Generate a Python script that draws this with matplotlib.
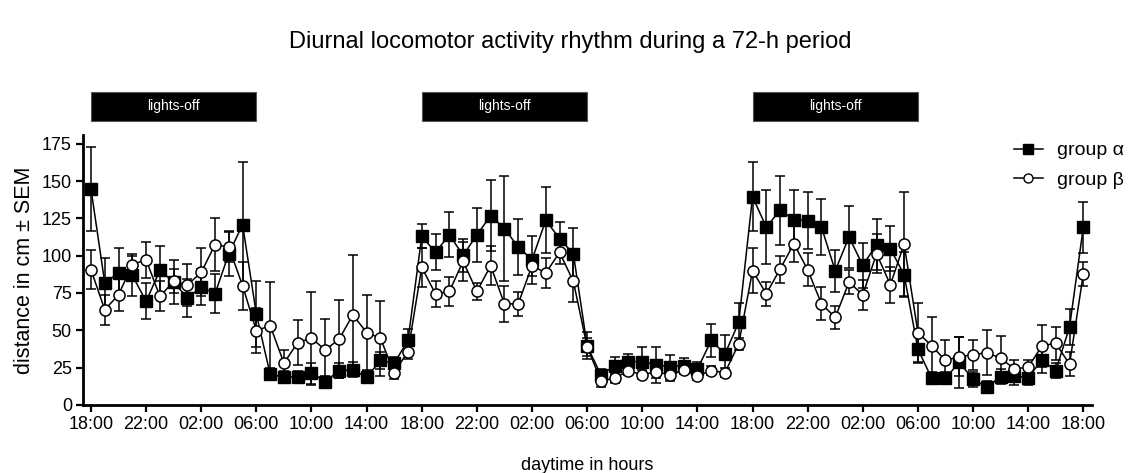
import numpy as np
import matplotlib
matplotlib.use("Agg")
import matplotlib.pyplot as plt
from matplotlib.patches import Rectangle
from matplotlib.transforms import blended_transform_factory
from matplotlib.lines import Line2D

plt.rcParams['font.family'] = ['Liberation Sans', 'DejaVu Sans']

# hours after 18:00, one sample per hour over 72 h
hours = np.arange(73)

alpha_mean = [144.7, 81.7, 88.4, 86.8, 69.4, 90.2, 82.3, 71.6, 79.0, 74.5, 101.3, 120.8, 60.8,
              20.6, 18.6, 19.0, 21.3, 15.7, 23.0, 23.5, 18.6, 29.8, 28.0, 43.2,
              113.0, 102.2, 114.0, 100.2, 113.9, 126.8, 118.1, 105.8, 97.3, 123.7, 111.4, 101.3,
              39.6, 20.1, 26.2, 29.0, 29.1, 26.8, 25.7, 26.4, 23.9, 43.2, 34.2, 55.3,
              139.4, 119.2, 130.4, 124.2, 123.5, 119.2, 89.9, 112.5, 93.5, 107.4, 104.7, 87.2,
              37.4, 17.9, 17.9, 28.6, 17.2, 11.9, 19.0, 19.5, 18.3, 30.2, 23.0, 52.1, 119.0]
alpha_sem = [28, 17, 17, 14, 12, 16, 15, 13, 12, 13, 15, 42, 22,
             4, 4, 4, 7, 4, 5, 5, 4, 6, 4, 8,
             8, 12, 15, 11, 18, 24, 35, 19, 16, 22, 11, 17,
             9, 4, 6, 5, 10, 12, 8, 5, 5, 11, 13, 13,
             23, 25, 23, 20, 19, 19, 14, 21, 15, 17, 15, 15,
             9, 4, 4, 17, 5, 4, 5, 6, 5, 9, 5, 12, 17]

beta_mean = [90.6, 63.8, 73.8, 94.0, 97.3, 72.7, 82.8, 80.5, 88.8, 107.4, 105.8, 79.9, 49.7,
             53.2, 28.0, 41.8, 44.7, 36.9, 44.0, 60.4, 48.5, 44.7, 21.7, 35.8,
             92.2, 74.3, 76.0, 96.2, 76.0, 93.3, 67.6, 67.8, 93.3, 88.4, 102.2, 82.8,
             39.0, 16.3, 17.9, 23.0, 20.1, 22.4, 20.1, 23.5, 19.5, 23.0, 21.7, 40.9,
             89.9, 74.5, 91.0, 108.0, 90.6, 67.8, 58.6, 82.3, 73.8, 101.3, 80.5, 107.8,
             48.5, 39.6, 29.8, 32.4, 33.6, 35.1, 31.3, 24.2, 25.3, 39.6, 41.4, 27.3, 87.7]
beta_sem = [13, 10, 11, 6, 12, 10, 8, 14, 16, 18, 10, 16, 15,
            29, 9, 15, 31, 21, 26, 40, 25, 25, 4, 5,
            13, 9, 10, 13, 6, 13, 12, 8, 7, 10, 8, 14,
            6, 4, 3, 3, 3, 4, 4, 3, 3, 3, 3, 4,
            15, 8, 9, 12, 11, 11, 8, 8, 10, 13, 12, 35,
            20, 19, 14, 13, 10, 15, 15, 6, 5, 14, 11, 8, 8]

tick_hours = np.arange(0, 73, 4)
tick_labels = ['18:00', '22:00', '02:00', '06:00', '10:00', '14:00'] * 3 + ['18:00']
dark_periods = [(0, 12), (24, 36), (48, 60)]

fig = plt.figure(figsize=(11.4, 4.73), dpi=100)
ax = fig.add_axes([0.0728, 0.1438, 0.8852, 0.5714])

ax.errorbar(hours, alpha_mean, yerr=alpha_sem, color='black', lw=1.1, elinewidth=1.1,
            capsize=3.5, capthick=1.1, marker='s', ms=8.5, mfc='black', mec='black', zorder=3)
ax.errorbar(hours, beta_mean, yerr=beta_sem, color='black', lw=1.1, elinewidth=1.1,
            capsize=3.5, capthick=1.1, marker='o', ms=8, mfc='white', mec='black', mew=1.1,
            zorder=4)

ax.set_xlim(-0.58, 72.64)
ax.set_ylim(0, 181)
ax.set_xticks(tick_hours)
ax.set_xticklabels(tick_labels)
ax.set_yticks(np.arange(0, 176, 25))
ax.tick_params(direction='out', length=5, width=1.6, labelsize=13, pad=3)
for s in ('top', 'right'):
    ax.spines[s].set_visible(False)
for s in ('left', 'bottom'):
    ax.spines[s].set_linewidth(2)

ax.set_ylabel('distance in cm ± SEM', fontsize=15.5, labelpad=5)
ax.set_xlabel('daytime in hours', fontsize=13, labelpad=17)
fig.suptitle('Diurnal locomotor activity rhythm during a 72-h period', fontsize=17, y=0.935)

# lights-off bars above the plot
trans = blended_transform_factory(ax.transData, fig.transFigure)
for start, end in dark_periods:
    ax.add_patch(Rectangle((start, 0.744), end - start, 0.062, transform=trans,
                           facecolor='black', edgecolor='#555555', lw=0.8, clip_on=False))
    ax.text((start + end) / 2, 0.776, 'lights-off', transform=trans, color='white',
            ha='center', va='center', fontsize=10)

handles = [Line2D([0], [0], color='black', lw=1.1, marker='s', ms=6.5, mfc='black'),
           Line2D([0], [0], color='black', lw=1.1, marker='o', ms=6.5, mfc='white')]
fig.legend(handles, ['group α', 'group β'], loc='upper left', bbox_to_anchor=(0.879, 0.725),
           frameon=False, fontsize=14, handlelength=1.5, handletextpad=0.7, labelspacing=0.6,
           borderaxespad=0.2)

fig.savefig('out.png', dpi=100)
